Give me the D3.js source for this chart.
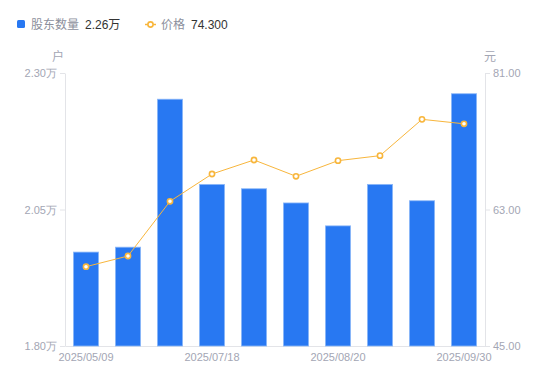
<!DOCTYPE html>
<html>
<head>
<meta charset="utf-8">
<script src="https://cdn.jsdelivr.net/npm/d3@7"></script>
<style>
  body { margin: 0; background: #fff; }
  svg { font-family: "Liberation Sans", "Noto Sans CJK SC", sans-serif; }
  .axis path, .axis line { stroke: #e3e4e8; }
  .axis text { fill: #a3a6b4; font-size: 11px; }
</style>
</head>
<body>
<div id="chart"></div>
<script>
const dates = ['2025/05/09', '2025/05/30', '2025/06/20', '2025/07/18', '2025/07/31',
               '2025/08/08', '2025/08/20', '2025/09/10', '2025/09/19', '2025/09/30'];
const holders = [1.972, 1.981, 2.252, 2.096, 2.088, 2.062, 2.020, 2.096, 2.066, 2.262];
const prices = [55.46, 56.87, 64.08, 67.68, 69.53, 67.38, 69.44, 70.10, 74.89, 74.30];
const leftTicks = [1.80, 2.05, 2.30];
const rightTicks = [45, 63, 81];
const shownDates = ['2025/05/09', '2025/07/18', '2025/08/20', '2025/09/30'];

const width = 550, height = 381;
const margin = { left: 65, top: 73, right: 65, bottom: 35 };

const svg = d3.select('#chart').append('svg')
    .attr('width', width)
    .attr('height', height);

const x = d3.scaleBand()
    .domain(dates)
    .range([margin.left, width - margin.right])
    .paddingInner(0.4)
    .paddingOuter(0.2);
const yL = d3.scaleLinear().domain([1.80, 2.30]).range([height - margin.bottom, margin.top]);
const yR = d3.scaleLinear().domain([45, 81]).range([height - margin.bottom, margin.top]);

// axes
svg.append('g')
    .attr('class', 'axis')
    .attr('transform', `translate(${margin.left},0)`)
    .call(d3.axisLeft(yL).tickValues(leftTicks).tickSize(5).tickSizeOuter(0).tickPadding(3)
        .tickFormat(d => d3.format('.2f')(d) + '万'));

svg.append('g')
    .attr('class', 'axis')
    .attr('transform', `translate(${width - margin.right},0)`)
    .call(d3.axisRight(yR).tickValues(rightTicks).tickSize(5).tickSizeOuter(0).tickPadding(3)
        .tickFormat(d3.format('.2f')));

const xAxis = svg.append('g')
    .attr('class', 'axis')
    .attr('transform', `translate(0,${height - margin.bottom})`)
    .call(d3.axisBottom(x).tickValues(shownDates).tickSize(0).tickSizeOuter(0).tickPadding(7));

// bars
svg.append('g')
    .selectAll('rect')
    .data(holders)
    .join('rect')
    .attr('x', (d, i) => x(dates[i]))
    .attr('y', d => yL(d))
    .attr('width', x.bandwidth())
    .attr('height', d => yL(1.80) - yL(d))
    .attr('fill', '#2878f2')
    .attr('stroke', '#8db8f8')
    .attr('stroke-width', 0.8);

// price line
const line = d3.line()
    .x((d, i) => x(dates[i]) + x.bandwidth() / 2)
    .y(d => yR(d));

svg.append('path')
    .datum(prices)
    .attr('d', line)
    .attr('fill', 'none')
    .attr('stroke', '#f8b63c')
    .attr('stroke-width', 1);

svg.append('g')
    .selectAll('circle')
    .data(prices)
    .join('circle')
    .attr('cx', (d, i) => x(dates[i]) + x.bandwidth() / 2)
    .attr('cy', d => yR(d))
    .attr('r', 2.6)
    .attr('fill', '#fff')
    .attr('stroke', '#f8b63c')
    .attr('stroke-width', 1.6);

// unit labels
svg.append('text')
    .attr('x', 58).attr('y', 61)
    .attr('text-anchor', 'middle')
    .attr('fill', '#a3a6b4')
    .attr('font-size', 12)
    .text('户');
svg.append('text')
    .attr('x', 490).attr('y', 61)
    .attr('text-anchor', 'middle')
    .attr('fill', '#a3a6b4')
    .attr('font-size', 12)
    .text('元');

// legend
const legend = svg.append('g').attr('font-size', 12);
legend.append('rect')
    .attr('x', 17).attr('y', 20).attr('width', 8).attr('height', 8)
    .attr('rx', 1.5)
    .attr('fill', '#2878f2');
legend.append('text').attr('x', 31).attr('y', 28.5).attr('fill', '#8c8f9c').text('股东数量');
legend.append('text').attr('x', 85).attr('y', 28.5).attr('fill', '#333').text('2.26万');

legend.append('line')
    .attr('x1', 145).attr('x2', 156).attr('y1', 24.5).attr('y2', 24.5)
    .attr('stroke', '#f8b63c').attr('stroke-width', 1.5);
legend.append('circle')
    .attr('cx', 150.5).attr('cy', 24.5).attr('r', 2.6)
    .attr('fill', '#fff').attr('stroke', '#f8b63c').attr('stroke-width', 1.6);
legend.append('text').attr('x', 161).attr('y', 28.5).attr('fill', '#8c8f9c').text('价格');
legend.append('text').attr('x', 191).attr('y', 28.5).attr('fill', '#333').text('74.300');
</script>
</body>
</html>
